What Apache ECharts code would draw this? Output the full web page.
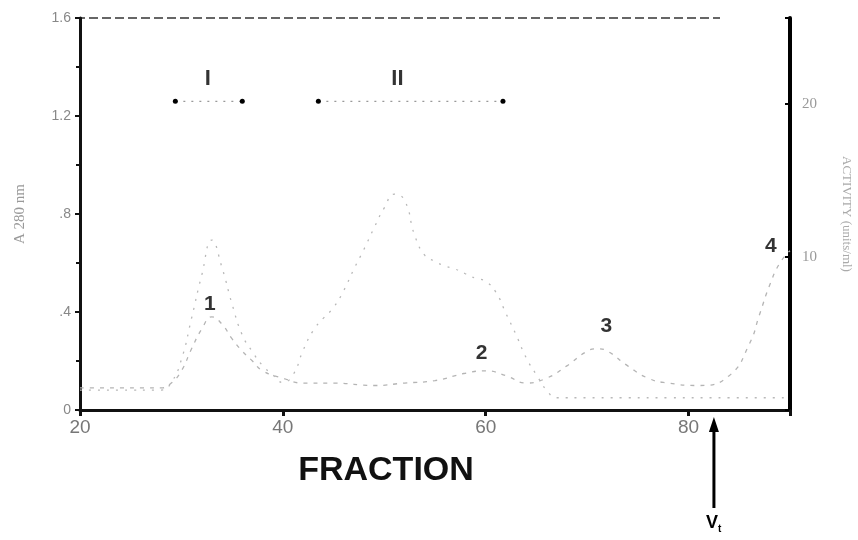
<!DOCTYPE html>
<html><head><meta charset="utf-8">
<script src="https://cdn.jsdelivr.net/npm/echarts@6/dist/echarts.min.js"></script>
<style>html,body{margin:0;padding:0;background:#fff}#c{width:858px;height:540px}</style>
</head><body><div id="c"></div>
<script>
// ---- data ----
const fractionsA = [20,22,24,26,28,29,30,31,32,33,34,35,36,37,38,40,42,45,49,52,55,58,60,62,64,66,68,70,71,72,74,76,78,81,84,86,87,88,89,90];
const absorbance = [0.09,0.09,0.09,0.09,0.09,0.11,0.16,0.25,0.33,0.38,0.35,0.29,0.24,0.20,0.16,0.13,0.11,0.11,0.10,0.11,0.12,0.15,0.16,0.14,0.11,0.13,0.18,0.24,0.25,0.24,0.18,0.13,0.11,0.10,0.14,0.27,0.39,0.51,0.60,0.65];
const fractionsB = [20,24,28,29,30,31,32,33,34,35,36,37,38,39,40,41,42,43,44,45,46,47,48,49,50,51,52,53,54,55,56,57,58,59,60,61,62,63,64,65,66,67,70,71,72,74,78,84,90];
const activity = [1.3,1.3,1.3,1.8,3.3,6.0,8.8,11.1,9.3,6.9,4.9,3.8,2.9,2.3,1.8,2.3,3.9,5.2,6.0,6.7,7.8,9.2,10.5,11.9,13.2,14.1,13.7,11.4,10.1,9.7,9.4,9.2,8.9,8.6,8.4,7.7,6.3,4.9,3.4,2.3,1.3,0.8,0.8,0.8,0.8,0.8,0.8,0.8,0.8];
const poolNames = ['I','II'];
const poolStart = [29.4, 43.5];
const poolEnd = [36.0, 61.7];
const poolLevel = 1.26;
const poolLabelX = [32.6, 51.3];
const poolLabelY = 1.35;
const peakNames = ['1','2','3','4'];
const peakX = [32.8, 59.6, 71.9, 88.1];
const peakY = [0.43, 0.23, 0.34, 0.67];
const xTickLabels = ['20','40','60','80'];
const leftTickLabels = {0:'0',0.4:'.4',0.8:'.8',1.2:'1.2',1.6:'1.6'};
const rightTickLabels = ['10','20'];
const vt = 82.5;

const chart = echarts.init(document.getElementById('c'), null, {renderer:'canvas'});
const series = [];
series.push({
  type:'line', yAxisIndex:0, smooth:true, symbol:'none',
  data: fractionsA.map((f,i)=>[f,absorbance[i]]),
  lineStyle:{color:'#b4b4b4', width:1.3, type:[4,6]}
});
series.push({
  type:'line', yAxisIndex:1, smooth:true, symbol:'none',
  data: fractionsB.map((f,i)=>[f,activity[i]]),
  lineStyle:{color:'#b8b8b8', width:1.3, type:[2,7]}
});
poolNames.forEach((n,i)=>{
  series.push({
    type:'line', yAxisIndex:0, symbol:'circle', symbolSize:5,
    itemStyle:{color:'#000'},
    lineStyle:{color:'#999', width:1.3, type:[2,6]},
    data:[[poolStart[i],poolLevel],[poolEnd[i],poolLevel]]
  });
});
series.push({
  type:'scatter', yAxisIndex:0, symbolSize:1, itemStyle:{color:'rgba(0,0,0,0)'},
  data: poolNames.map((n,i)=>({value:[poolLabelX[i],poolLabelY], name:n})),
  label:{show:true, position:'inside', formatter:p=>p.name, color:'#000', textBorderWidth:0,
    fontFamily:'Liberation Sans', fontWeight:'bold', fontSize:22}
});
series.push({
  type:'scatter', yAxisIndex:0, symbolSize:1, itemStyle:{color:'rgba(0,0,0,0)'},
  data: peakNames.map((n,i)=>({value:[peakX[i],peakY[i]], name:n})),
  label:{show:true, position:'inside', formatter:p=>p.name, color:'#000', textBorderWidth:0,
    fontFamily:'Liberation Sans', fontWeight:'bold', fontSize:21}
});

const option = {
  animation:false,
  backgroundColor:'#fff',
  grid:{left:80, right:68, top:18, bottom:130, containLabel:false, outerBoundsMode:'none'},
  xAxis:[{
    type:'value', min:20, max:90, interval:20,
    axisLine:{show:true, lineStyle:{color:'#111', width:3}},
    axisTick:{show:true, inside:false, length:6, lineStyle:{color:'#111', width:3}},
    splitLine:{show:false},
    axisLabel:{color:'#777', fontFamily:'Liberation Sans', fontSize:19, margin:8,
      formatter:v=>{const s=String(v); return xTickLabels.includes(s)?s:'';}},
    name:'FRACTION', nameLocation:'middle', nameGap:44,
    nameTextStyle:{color:'#111', fontFamily:'Liberation Sans', fontWeight:'bold', fontSize:34, padding:[0,98,0,0]}
  }],
  yAxis:[{
    type:'value', min:0, max:1.6, interval:0.4,
    axisLine:{show:true, lineStyle:{color:'#111', width:3}},
    axisTick:{show:true, length:5, lineStyle:{color:'#111', width:2}},
    minorTick:{show:true, splitNumber:2, length:4, lineStyle:{color:'#111', width:2}},
    splitLine:{show:false},
    axisLabel:{color:'#888', fontFamily:'Liberation Sans', fontSize:14, margin:9,
      formatter:v=>{const k=Math.round(v*10)/10; return leftTickLabels[k]!==undefined?leftTickLabels[k]:'';}},
    name:'A 280 nm', nameLocation:'middle', nameGap:52, nameRotate:90,
    nameTextStyle:{color:'#999', fontFamily:'Liberation Serif', fontSize:15}
  },{
    type:'value', min:0, max:25.6, interval:10, position:'right',
    axisLine:{show:true, lineStyle:{color:'#000', width:4}},
    axisTick:{show:true, inside:true, length:5, lineStyle:{color:'#000', width:2}},
    splitLine:{show:false},
    axisLabel:{color:'#999', fontFamily:'Liberation Serif', fontSize:15, margin:12,
      formatter:v=>{const s=String(v); return rightTickLabels.includes(s)?s:'';}},
    name:'ACTIVITY (units/ml)', nameLocation:'middle', nameGap:50, nameRotate:-90,
    nameTextStyle:{color:'#aaa', fontFamily:'Liberation Serif', fontSize:13}
  }],
  series: series
};
chart.setOption(option);

const px = chart.convertToPixel({xAxisIndex:0}, vt);
const y0 = chart.convertToPixel({yAxisIndex:0}, 0);
const yMax = chart.convertToPixel({yAxisIndex:0}, 1.6);
const xL = chart.convertToPixel({xAxisIndex:0}, 20);
const xR = chart.convertToPixel({xAxisIndex:0}, 90);
const yTop = y0 + 7;
chart.setOption({graphic:[
  {type:'line', shape:{x1:xL-4, y1:yMax, x2:xR-70, y2:yMax}, style:{stroke:'#666', lineWidth:2, lineDash:[9,4]}},
  {type:'polygon', shape:{points:[[px,yTop],[px-5,yTop+15],[px+5,yTop+15]]}, style:{fill:'#000'}},
  {type:'line', shape:{x1:px, y1:yTop+10, x2:px, y2:yTop+91}, style:{stroke:'#000', lineWidth:3}},
  {type:'text', x:px-8, y:yTop+97, style:{text:'V', fill:'#000', font:'bold 18px Liberation Sans'}},
  {type:'text', x:px+4, y:yTop+107, style:{text:'t', fill:'#000', font:'bold 10px Liberation Sans'}}
]});
</script>
</body></html>
